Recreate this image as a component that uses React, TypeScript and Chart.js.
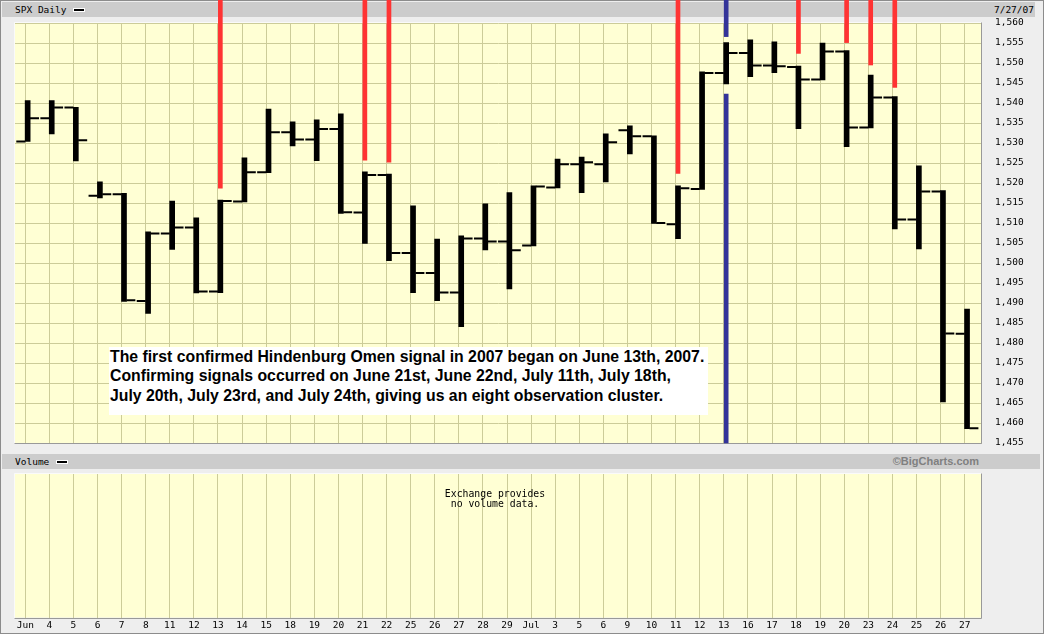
import { useEffect, useRef } from "react";
import { Chart, registerables } from "chart.js";

Chart.register(...registerables);

// ---------- data ----------
const DAY_LABELS = [
  "Jun", "4", "5", "6", "7", "8", "11", "12", "13", "14", "15", "18", "19", "20", "21", "22",
  "25", "26", "27", "28", "29", "Jul", "3", "5", "6", "9", "10", "11", "12", "13", "16", "17",
  "18", "19", "20", "23", "24", "25", "26", "27",
];
const OPEN = [
  1530.4, 1536.2, 1538.9, 1516.8, 1517.2, 1490.5, 1507.4, 1508.9, 1492.9, 1515.4,
  1522.7, 1532.7, 1530.9, 1533.5, 1512.6, 1522.0, 1502.5, 1497.5, 1492.6, 1506.1,
  1505.4, 1504.4, 1518.9, 1524.7, 1524.7, 1533.2, 1531.7, 1509.7, 1518.5, 1547.5,
  1552.5, 1549.4, 1549.0, 1545.9, 1552.9, 1533.9, 1541.4, 1510.9, 1517.9, 1482.3,
];
const HIGH = [
  1540.6, 1540.6, 1538.9, 1520.3, 1517.4, 1507.8, 1515.5, 1511.3, 1515.7, 1526.3,
  1538.5, 1535.3, 1535.8, 1537.3, 1522.8, 1522.2, 1514.3, 1506.0, 1506.8, 1514.8,
  1517.6, 1519.3, 1526.0, 1526.5, 1532.3, 1534.3, 1531.8, 1519.3, 1547.8, 1555.1,
  1555.8, 1555.3, 1549.2, 1555.0, 1553.1, 1547.0, 1541.6, 1524.3, 1518.1, 1488.5,
];
const LOW = [
  1530.4, 1532.3, 1525.5, 1516.3, 1490.4, 1487.4, 1503.4, 1492.5, 1492.6, 1515.3,
  1522.6, 1529.3, 1525.6, 1512.4, 1504.9, 1500.6, 1492.6, 1490.6, 1484.1, 1503.3,
  1493.5, 1504.3, 1518.8, 1517.6, 1520.3, 1527.3, 1509.9, 1506.1, 1518.4, 1544.8,
  1546.6, 1547.6, 1533.6, 1545.8, 1529.1, 1533.8, 1508.5, 1503.5, 1465.3, 1458.6,
];
const CLOSE = [
  1536.2, 1538.9, 1530.7, 1517.2, 1490.7, 1507.4, 1508.9, 1492.9, 1515.5, 1522.7,
  1532.7, 1530.9, 1533.5, 1512.7, 1522.0, 1502.5, 1497.5, 1492.6, 1506.1, 1505.4,
  1503.2, 1519.1, 1524.7, 1525.2, 1530.2, 1531.7, 1510.0, 1518.7, 1547.5, 1552.5,
  1549.4, 1549.2, 1545.9, 1552.9, 1533.9, 1541.4, 1510.9, 1517.9, 1482.4, 1458.7,
];
// confirming Hindenburg Omen signals (red): day index and lower tip of the line
const SIGNAL_DAYS = [8, 14, 15, 27, 32, 34, 35, 36];
const SIGNAL_TIPS = [1518.7, 1525.7, 1525.2, 1522.4, 1552.4, 1555.1, 1549.5, 1543.9];
// blue marker (Jul 13): upper segment tip and lower segment tip
const BLUE_DAY = 29;
const BLUE_UPPER_TIP = 1556.6;
const BLUE_LOWER_TIP = 1542.2;
const LINE_TOP = 1566; // signal lines run up to the top of the picture

const Y_MIN = 1455;
const Y_MAX = 1560;
const Y_STEP = 5;

const NOTE_LINES = [
  "The first confirmed Hindenburg Omen signal in 2007 began on June 13th, 2007.",
  "Confirming signals occurred on June 21st, June 22nd, July 11th, July 18th,",
  "July 20th, July 23rd, and July 24th, giving us an eight observation cluster.",
];

// ---------- layout / style ----------
const X_MIN = -0.4276;
const X_MAX = 39.7058;
const BAR_SHIFT = 0.0976;
const OPEN_SHIFT = -0.187;
const CLOSE_SHIFT = 0.382;

const MONO = '"DejaVu Sans Mono", "Liberation Mono", monospace';
const GRID = "#CCCC99";
const PLOT_BG = "#FFFFD4";
const RED = "#FF3333";
const BLUE = "#333399";

const fmt = (v: number) => {
  const n = Math.round(v);
  const th = Math.floor(n / 1000);
  return th > 0 ? `${th},${String(n % 1000).padStart(3, "0")}` : String(n);
};

const plotFrame = {
  id: "plotFrame",
  beforeDraw(chart: any) {
    const { ctx, chartArea: a } = chart;
    ctx.save();
    ctx.fillStyle = PLOT_BG;
    ctx.fillRect(a.left, a.top, a.right - a.left, a.bottom - a.top);
    ctx.restore();
  },
  beforeDatasetsDraw(chart: any) {
    const { ctx, chartArea: a } = chart;
    const l = Math.round(a.left) - 0.5;
    const t = Math.round(a.top) - 0.5;
    const r = Math.round(a.right) - 0.5;
    const b = Math.round(a.bottom) + 0.5;
    ctx.save();
    ctx.lineWidth = 1;
    ctx.strokeStyle = "#FAFAFA";
    ctx.beginPath();
    ctx.moveTo(l, b);
    ctx.lineTo(l, t);
    ctx.lineTo(r, t);
    ctx.stroke();
    ctx.strokeStyle = "#999999";
    ctx.beginPath();
    ctx.moveTo(r, t);
    ctx.lineTo(r, b);
    ctx.lineTo(l, b);
    ctx.stroke();
    ctx.restore();
  },
};

const dayTicks = (s: any) => {
  s.ticks = DAY_LABELS.map((_, i) => ({ value: i }));
};

export default function App() {
  const mainRef = useRef<HTMLCanvasElement>(null);
  const volRef = useRef<HTMLCanvasElement>(null);

  useEffect(() => {
    const main = new Chart(mainRef.current as HTMLCanvasElement, {
      type: "scatter",
      data: {
        datasets: [
          {
            type: "bar",
            label: "High-Low",
            data: DAY_LABELS.map((_, i) => ({ x: i + BAR_SHIFT, y: [LOW[i], HIGH[i]] })) as any,
            backgroundColor: "#000000",
            borderWidth: 0,
            grouped: false,
            barThickness: 5,
            maxBarThickness: 5,
          } as any,
          {
            type: "scatter",
            label: "Open",
            data: OPEN.map((v, i) => ({ x: i + OPEN_SHIFT, y: v })),
            pointStyle: "line",
            pointRadius: 4.5,
            pointBorderWidth: 2,
            pointBorderColor: "#000000",
            borderColor: "#000000",
          } as any,
          {
            type: "scatter",
            label: "Close",
            data: CLOSE.map((v, i) => ({ x: i + CLOSE_SHIFT, y: v })),
            pointStyle: "line",
            pointRadius: 4.5,
            pointBorderWidth: 2,
            pointBorderColor: "#000000",
            borderColor: "#000000",
          } as any,
          {
            type: "bar",
            label: "Signals",
            data: SIGNAL_DAYS.map((d, k) => ({ x: d + BAR_SHIFT, y: [SIGNAL_TIPS[k], LINE_TOP] })) as any,
            backgroundColor: RED,
            borderWidth: 0,
            grouped: false,
            barThickness: 4,
            maxBarThickness: 4,
            clip: false,
          } as any,
          {
            type: "bar",
            label: "First",
            data: [
              { x: BLUE_DAY + BAR_SHIFT, y: [BLUE_UPPER_TIP, LINE_TOP] },
              { x: BLUE_DAY + BAR_SHIFT, y: [Y_MIN, BLUE_LOWER_TIP] },
            ] as any,
            backgroundColor: BLUE,
            borderWidth: 0,
            grouped: false,
            barThickness: 4,
            maxBarThickness: 4,
            clip: false,
          } as any,
        ],
      },
      options: {
        responsive: false,
        animation: false,
        devicePixelRatio: 1,
        events: [],
        layout: { padding: { left: 15, top: 23, right: 0, bottom: 7 } },
        plugins: { legend: { display: false }, tooltip: { enabled: false } },
        scales: {
          x: {
            type: "linear",
            min: X_MIN,
            max: X_MAX,
            offset: false,
            afterBuildTicks: dayTicks,
            afterFit: (s: any) => {
              s.height = 0;
            },
            ticks: { display: false },
            grid: { color: GRID, drawTicks: false, offset: false, lineWidth: 1 },
            border: { display: false },
          } as any,
          y: {
            type: "linear",
            position: "right",
            min: Y_MIN,
            max: Y_MAX,
            beginAtZero: false,
            afterFit: (s: any) => {
              s.width = 63.3;
            },
            ticks: {
              stepSize: Y_STEP,
              autoSkip: false,
              padding: 0,
              color: "#000000",
              font: { family: MONO, size: 9.5 },
              callback: (v: any) => fmt(Number(v)),
            },
            grid: {
              color: GRID,
              drawTicks: true,
              tickLength: 13.3,
              tickColor: "rgba(0,0,0,0)",
              lineWidth: 1,
            },
            border: { display: false },
          } as any,
        },
      },
      plugins: [plotFrame],
    });

    const vol = new Chart(volRef.current as HTMLCanvasElement, {
      type: "scatter",
      data: { datasets: [] },
      options: {
        responsive: false,
        animation: false,
        devicePixelRatio: 1,
        events: [],
        layout: { padding: { left: 15, top: 24, right: 63.3, bottom: 0 } },
        plugins: { legend: { display: false }, tooltip: { enabled: false } },
        scales: {
          x: {
            type: "linear",
            min: X_MIN,
            max: X_MAX,
            offset: false,
            afterBuildTicks: dayTicks,
            afterFit: (s: any) => {
              s.height = 17.5;
            },
            ticks: {
              autoSkip: false,
              maxRotation: 0,
              minRotation: 0,
              padding: 2,
              color: "#000000",
              font: { family: MONO, size: 9.5 },
              callback: (v: any) => DAY_LABELS[Number(v)] ?? "",
            },
            grid: { color: GRID, drawTicks: false, offset: false, lineWidth: 1 },
            border: { display: false },
          } as any,
          y: { type: "linear", min: 0, max: 1, display: false },
        },
      },
      plugins: [plotFrame],
    });

    return () => {
      main.destroy();
      vol.destroy();
    };
  }, []);

  const band: React.CSSProperties = { position: "absolute", background: "#CCCCCC" };
  const mono: React.CSSProperties = {
    position: "absolute",
    fontFamily: MONO,
    fontSize: "9.5px",
    color: "#000",
    whiteSpace: "pre",
  };
  const swatch: React.CSSProperties = {
    position: "absolute",
    width: 12,
    height: 4,
    background: "#000",
    border: "1px solid #fff",
    boxSizing: "border-box",
  };

  return (
    <div
      style={{
        position: "fixed",
        left: 0,
        top: 0,
        width: 1045,
        height: 635,
        overflow: "hidden",
        background: "#FFFFFF",
      }}
    >
      <div
        style={{
          position: "absolute",
          left: 0,
          top: 0,
          width: 1044,
          height: 634,
          boxSizing: "border-box",
          border: "1px solid #8C8C8C",
          background: "#EEEEEE",
        }}
      />
      <div style={{ ...band, left: 2, top: 2, width: 1033, height: 15 }} />
      <div style={{ ...mono, left: 15, top: 2, height: 15, lineHeight: "15px" }}>SPX Daily</div>
      <div style={{ ...swatch, left: 73, top: 8 }} />
      <div style={{ ...mono, left: 960, width: 74, top: 2, height: 15, lineHeight: "15px", textAlign: "right" }}>
        7/27/07
      </div>

      <div style={{ ...band, left: 2, top: 454, width: 1038, height: 15 }} />
      <div style={{ ...mono, left: 15, top: 454, height: 15, lineHeight: "15px" }}>Volume</div>
      <div style={{ ...swatch, left: 56, top: 460 }} />
      <div
        style={{
          position: "absolute",
          left: 800,
          width: 179,
          top: 454,
          height: 15,
          lineHeight: "15px",
          textAlign: "right",
          fontFamily: '"Liberation Sans", Arial, sans-serif',
          fontWeight: "bold",
          fontSize: "11px",
          color: "#808080",
        }}
      >
        ©BigCharts.com
      </div>

      <canvas
        ref={mainRef}
        width={1045}
        height={450}
        style={{ position: "absolute", left: 0, top: 0, width: 1045, height: 450 }}
      />
      <canvas
        ref={volRef}
        width={1045}
        height={185}
        style={{ position: "absolute", left: 0, top: 450, width: 1045, height: 185 }}
      />

      <div
        style={{
          position: "absolute",
          left: 109,
          top: 347,
          width: 599,
          height: 68,
          background: "#FFFFFF",
          boxSizing: "border-box",
          paddingLeft: 1,
          fontFamily: '"Liberation Sans", Arial, sans-serif',
          fontWeight: "bold",
          fontSize: "15.8px",
          lineHeight: "19.3px",
          color: "#000",
          whiteSpace: "nowrap",
        }}
      >
        {NOTE_LINES.map((t, i) => (
          <div key={i}>{t}</div>
        ))}
      </div>

      <div
        style={{
          ...mono,
          fontSize: "9.8px",
          left: 395,
          width: 200,
          top: 489,
          lineHeight: "10px",
          textAlign: "center",
        }}
      >
        {"Exchange provides\nno volume data."}
      </div>
    </div>
  );
}
